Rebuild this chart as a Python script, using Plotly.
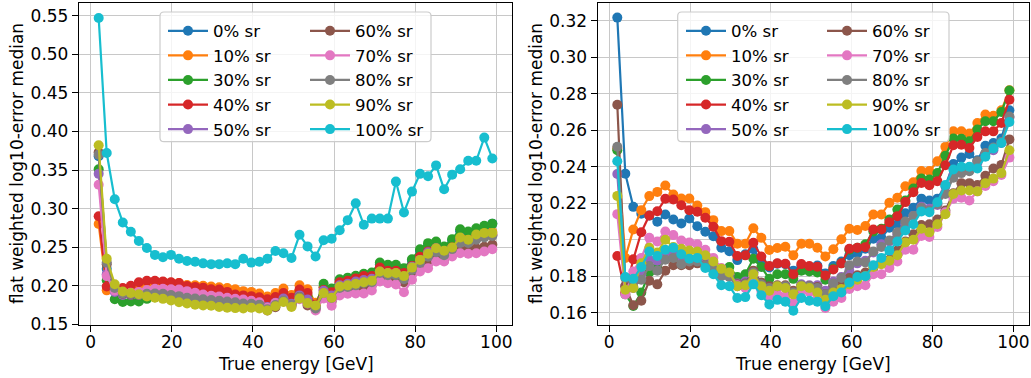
import plotly.graph_objects as go
from plotly.subplots import make_subplots

W, H = 1031, 378

# Bin centres of the true energy [GeV]
energy = [1.99, 3.97, 5.95, 7.93, 9.91, 11.89, 13.87, 15.85, 17.83, 19.81,
          21.79, 23.77, 25.75, 27.73, 29.71, 31.69, 33.67, 35.65, 37.63, 39.61,
          41.59, 43.57, 45.55, 47.53, 49.51, 51.49, 53.47, 55.45, 57.43, 59.41,
          61.39, 63.37, 65.35, 67.33, 69.31, 71.29, 73.27, 75.25, 77.23, 79.21,
          81.19, 83.17, 85.15, 87.13, 89.11, 91.09, 93.07, 95.05, 97.03, 99.01]

labels = ["0% sr", "10% sr", "30% sr", "40% sr", "50% sr",
          "60% sr", "70% sr", "80% sr", "90% sr", "100% sr"]
colors = ["#1f77b4", "#ff7f0e", "#2ca02c", "#d62728", "#9467bd",
          "#8c564b", "#e377c2", "#7f7f7f", "#bcbd22", "#17becf"]

# ---- left panel: flat weighted log10-error median ----
left_sr0 = [0.368, 0.222, 0.193, 0.189, 0.189, 0.189, 0.1915, 0.192, 0.1915, 0.1905,
            0.189, 0.1875, 0.1865, 0.1855, 0.1845, 0.1835, 0.1825, 0.181, 0.180, 0.1795,
            0.1785, 0.1745, 0.1795, 0.1845, 0.178, 0.189, 0.1835, 0.1735, 0.198, 0.1945,
            0.2065, 0.2085, 0.211, 0.2135, 0.215, 0.2275, 0.2245, 0.2245, 0.2205, 0.2325,
            0.245, 0.2525, 0.256, 0.249, 0.2585, 0.2705, 0.268, 0.2725, 0.2755, 0.2805]
left_sr10 = [0.280, 0.194, 0.197, 0.196, 0.197, 0.199, 0.203, 0.205, 0.205, 0.204,
             0.2035, 0.201, 0.2005, 0.200, 0.199, 0.198, 0.197, 0.1955, 0.193, 0.192,
             0.190, 0.186, 0.1905, 0.1965, 0.188, 0.2005, 0.1955, 0.178, 0.198, 0.195,
             0.2045, 0.206, 0.2085, 0.210, 0.2095, 0.2215, 0.2175, 0.2175, 0.2135, 0.2245,
             0.2355, 0.2455, 0.2505, 0.2435, 0.2525, 0.2625, 0.2605, 0.2665, 0.2675, 0.2695]
left_sr30 = [0.351, 0.207, 0.1825, 0.179, 0.1795, 0.1795, 0.183, 0.185, 0.1855, 0.185,
             0.184, 0.1825, 0.182, 0.1805, 0.1795, 0.1785, 0.1775, 0.177, 0.1765, 0.1765,
             0.176, 0.1715, 0.178, 0.1835, 0.1775, 0.1905, 0.1865, 0.1745, 0.2025, 0.1965,
             0.2085, 0.2105, 0.2128, 0.2154, 0.2172, 0.2301, 0.2271, 0.2271, 0.2228, 0.2344,
             0.2474, 0.2552, 0.2573, 0.2509, 0.2604, 0.2733, 0.2703, 0.2746, 0.2776, 0.2802]
left_sr40 = [0.290, 0.199, 0.195, 0.197, 0.200, 0.2045, 0.2065, 0.2065, 0.2055, 0.2045,
             0.2035, 0.1995, 0.1985, 0.1975, 0.1955, 0.195, 0.192, 0.1885, 0.1875, 0.1865,
             0.185, 0.1825, 0.1855, 0.1905, 0.1845, 0.195, 0.1905, 0.1755, 0.1945, 0.1915,
             0.2045, 0.2065, 0.2095, 0.2125, 0.2125, 0.2235, 0.2195, 0.2195, 0.2165, 0.2255,
             0.2375, 0.2445, 0.2485, 0.2435, 0.2495, 0.2605, 0.2585, 0.2635, 0.2655, 0.2665]
left_sr50 = [0.345, 0.215, 0.192, 0.188, 0.188, 0.1885, 0.191, 0.1915, 0.191, 0.190,
             0.1885, 0.1865, 0.186, 0.185, 0.1835, 0.1825, 0.181, 0.180, 0.179, 0.1785,
             0.1775, 0.1725, 0.178, 0.1835, 0.1765, 0.1875, 0.182, 0.1715, 0.1935, 0.1875,
             0.2005, 0.2025, 0.2055, 0.2075, 0.209, 0.2185, 0.2165, 0.2165, 0.2115, 0.2245,
             0.2335, 0.2435, 0.2485, 0.2425, 0.249, 0.2595, 0.2575, 0.262, 0.2645, 0.2655]
left_sr60 = [0.373, 0.228, 0.196, 0.1895, 0.1885, 0.188, 0.190, 0.1905, 0.190, 0.189,
             0.187, 0.1855, 0.1845, 0.1835, 0.1825, 0.181, 0.180, 0.179, 0.1775, 0.177,
             0.1755, 0.168, 0.172, 0.1795, 0.1745, 0.1855, 0.1745, 0.1695, 0.1875, 0.1795,
             0.1935, 0.1955, 0.1975, 0.199, 0.2005, 0.2135, 0.2105, 0.2095, 0.2045, 0.2155,
             0.2225, 0.2285, 0.2345, 0.2325, 0.2425, 0.2465, 0.2475, 0.2485, 0.2505, 0.2535]
left_sr70 = [0.331, 0.2125, 0.1935, 0.1915, 0.191, 0.192, 0.1945, 0.196, 0.196, 0.1955,
             0.195, 0.193, 0.191, 0.1885, 0.187, 0.186, 0.1845, 0.183, 0.182, 0.1805,
             0.1785, 0.1715, 0.1775, 0.1805, 0.1745, 0.1825, 0.177, 0.168, 0.1835, 0.174,
             0.1875, 0.1895, 0.190, 0.190, 0.1938, 0.2055, 0.2033, 0.2015, 0.1915, 0.2077,
             0.2185, 0.2228, 0.2314, 0.2314, 0.2379, 0.2422, 0.2415, 0.2422, 0.2444, 0.2474]
left_sr80 = [0.370, 0.230, 0.197, 0.190, 0.189, 0.188, 0.1895, 0.190, 0.1895, 0.188,
             0.1865, 0.1845, 0.1835, 0.1825, 0.1815, 0.1805, 0.1795, 0.1785, 0.177, 0.1765,
             0.1755, 0.1695, 0.175, 0.181, 0.175, 0.1855, 0.1775, 0.1705, 0.1905, 0.184,
             0.197, 0.1985, 0.2005, 0.2035, 0.2045, 0.2165, 0.2135, 0.2135, 0.2085, 0.2205,
             0.2295, 0.2375, 0.2435, 0.2395, 0.2475, 0.2555, 0.2555, 0.2595, 0.2625, 0.2645]
left_sr90 = [0.382, 0.235, 0.202, 0.1925, 0.1905, 0.189, 0.186, 0.1845, 0.183, 0.181,
             0.1785, 0.177, 0.1755, 0.1745, 0.174, 0.1725, 0.1715, 0.171, 0.1705, 0.1715,
             0.1705, 0.168, 0.1735, 0.179, 0.1725, 0.1835, 0.1775, 0.1745, 0.1905, 0.1845,
             0.199, 0.2005, 0.2025, 0.2045, 0.2065, 0.2185, 0.2165, 0.2165, 0.2125, 0.2235,
             0.2335, 0.2415, 0.2485, 0.2455, 0.2495, 0.2625, 0.2595, 0.2665, 0.2685, 0.2685]
left_sr100 = [0.547, 0.372, 0.312, 0.282, 0.270, 0.258, 0.249, 0.240, 0.237, 0.240,
              0.235, 0.232, 0.231, 0.229, 0.228, 0.228, 0.229, 0.228, 0.235, 0.230,
              0.231, 0.235, 0.245, 0.242, 0.236, 0.266, 0.251, 0.238, 0.259, 0.261,
              0.272, 0.285, 0.307, 0.279, 0.287, 0.287, 0.287, 0.335, 0.295, 0.322,
              0.345, 0.342, 0.356, 0.325, 0.344, 0.351, 0.362, 0.362, 0.392, 0.365]

# ---- right panel ----
right_sr0 = [0.3218, 0.2362, 0.218, 0.2142, 0.2132, 0.2098, 0.2138, 0.2111, 0.2089, 0.2116,
             0.2074, 0.2043, 0.2019, 0.1956, 0.1937, 0.1888, 0.1920, 0.1948, 0.1880, 0.1848,
             0.1868, 0.1865, 0.1830, 0.1855, 0.1845, 0.1858, 0.1815, 0.1855, 0.1880, 0.1915,
             0.1925, 0.1950, 0.2005, 0.2010, 0.2065, 0.2085, 0.2145, 0.2175, 0.2225, 0.2215,
             0.2225, 0.2295, 0.2415, 0.2450, 0.2470, 0.2435, 0.2515, 0.2530, 0.2555, 0.2710]
right_sr10 = [0.250, 0.190, 0.2056, 0.2162, 0.2239, 0.2262, 0.2297, 0.2248, 0.2226, 0.2226,
              0.2187, 0.2151, 0.2107, 0.2047, 0.2047, 0.1978, 0.1978, 0.2063, 0.2010, 0.1943,
              0.1954, 0.1961, 0.1914, 0.1978, 0.1978, 0.1956, 0.1908, 0.1947, 0.2002, 0.2060,
              0.2053, 0.2075, 0.2138, 0.2138, 0.2202, 0.2230, 0.2293, 0.2315, 0.2376, 0.2376,
              0.2430, 0.2509, 0.2595, 0.2595, 0.2582, 0.2640, 0.2686, 0.2680, 0.2710, 0.2819]
right_sr30 = [0.249, 0.170, 0.1636, 0.171, 0.182, 0.1845, 0.1905, 0.1920, 0.1905, 0.1895,
              0.1890, 0.1880, 0.1850, 0.1830, 0.1850, 0.1795, 0.1810, 0.1895, 0.1850, 0.1785,
              0.1810, 0.1810, 0.1785, 0.1830, 0.1825, 0.1820, 0.1780, 0.1840, 0.1870, 0.1945,
              0.1955, 0.1975, 0.2045, 0.2060, 0.2110, 0.2165, 0.2215, 0.2280, 0.2335, 0.2330,
              0.2365, 0.2460, 0.2555, 0.2553, 0.2540, 0.2604, 0.2649, 0.2649, 0.2700, 0.2818]
right_sr40 = [0.191, 0.171, 0.1892, 0.2041, 0.2133, 0.2156, 0.2224, 0.2220, 0.2189, 0.2162,
              0.2153, 0.2120, 0.2071, 0.1992, 0.1989, 0.1910, 0.1914, 0.1983, 0.1908, 0.1855,
              0.1870, 0.1868, 0.1810, 0.1866, 0.1855, 0.1852, 0.1804, 0.1837, 0.1870, 0.1950,
              0.1956, 0.1959, 0.2056, 0.2056, 0.2096, 0.2129, 0.2206, 0.2260, 0.2311, 0.2299,
              0.2321, 0.2408, 0.2518, 0.2521, 0.2503, 0.2563, 0.2594, 0.2594, 0.2640, 0.2768]
right_sr50 = [0.236, 0.1745, 0.1735, 0.1810, 0.1890, 0.1885, 0.1905, 0.1920, 0.1900, 0.1890,
              0.1885, 0.1870, 0.1845, 0.1815, 0.1810, 0.1760, 0.1770, 0.1820, 0.1760, 0.1735,
              0.1740, 0.1745, 0.1715, 0.1755, 0.1750, 0.1750, 0.1720, 0.1770, 0.1795, 0.1830,
              0.1870, 0.1885, 0.1930, 0.1975, 0.1990, 0.2030, 0.2085, 0.2130, 0.2180, 0.2170,
              0.2190, 0.2260, 0.2350, 0.2380, 0.2395, 0.2420, 0.2470, 0.2490, 0.2530, 0.2670]
right_sr60 = [0.274, 0.1745, 0.1640, 0.1665, 0.1775, 0.1755, 0.1830, 0.1860, 0.1860, 0.1860,
              0.1870, 0.1860, 0.1840, 0.1815, 0.1800, 0.1755, 0.1760, 0.1830, 0.1765, 0.1745,
              0.1750, 0.1750, 0.1720, 0.1745, 0.1745, 0.1740, 0.1700, 0.1750, 0.1765, 0.1790,
              0.1805, 0.1820, 0.1845, 0.1880, 0.1890, 0.1940, 0.1990, 0.2030, 0.2080, 0.2085,
              0.2110, 0.2160, 0.2255, 0.2310, 0.2310, 0.2300, 0.2350, 0.2390, 0.2410, 0.2550]
right_sr70 = [0.214, 0.1700, 0.1825, 0.1900, 0.2010, 0.1990, 0.2045, 0.2025, 0.1995, 0.1985,
              0.1975, 0.1945, 0.1900, 0.1845, 0.1810, 0.1750, 0.1735, 0.1800, 0.1720, 0.1690,
              0.1700, 0.1690, 0.1655, 0.1720, 0.1715, 0.1695, 0.1625, 0.1660, 0.1680, 0.1730,
              0.1745, 0.1750, 0.1810, 0.1810, 0.1845, 0.1880, 0.1945, 0.1945, 0.2020, 0.2015,
              0.2070, 0.2150, 0.2225, 0.2230, 0.2215, 0.2265, 0.2295, 0.2320, 0.2355, 0.2450]
right_sr80 = [0.251, 0.179, 0.174, 0.178, 0.1855, 0.1830, 0.1890, 0.1900, 0.1865, 0.1880,
              0.1880, 0.1860, 0.1840, 0.1800, 0.1795, 0.1745, 0.1755, 0.1820, 0.1755, 0.1735,
              0.1745, 0.1745, 0.1710, 0.1750, 0.1745, 0.1735, 0.1700, 0.1760, 0.1790, 0.1860,
              0.1880, 0.1875, 0.1935, 0.1960, 0.1995, 0.2040, 0.2100, 0.2130, 0.2175, 0.2160,
              0.2195, 0.2250, 0.2340, 0.2365, 0.2375, 0.2430, 0.2475, 0.2505, 0.2535, 0.2675]
right_sr90 = [0.224, 0.1725, 0.1735, 0.1870, 0.1955, 0.1930, 0.2000, 0.1960, 0.1950, 0.1940,
              0.1935, 0.1915, 0.1880, 0.1840, 0.1820, 0.1745, 0.1750, 0.1810, 0.1745, 0.1720,
              0.1745, 0.1735, 0.1700, 0.1745, 0.1735, 0.1710, 0.1670, 0.1710, 0.1730, 0.1755,
              0.1780, 0.1800, 0.1850, 0.1865, 0.1885, 0.1915, 0.1985, 0.2000, 0.2060, 0.2040,
              0.2085, 0.2140, 0.2250, 0.2270, 0.2270, 0.2265, 0.2310, 0.2335, 0.2365, 0.2490]
right_sr100 = [0.243, 0.1795, 0.1785, 0.1850, 0.1935, 0.1910, 0.1945, 0.1955, 0.1920, 0.1895,
               0.1900, 0.1845, 0.1810, 0.1750, 0.1745, 0.1680, 0.1685, 0.1755, 0.1695, 0.1645,
               0.1670, 0.1660, 0.1610, 0.1680, 0.1665, 0.1660, 0.1635, 0.1690, 0.1710, 0.1765,
               0.1795, 0.1800, 0.1860, 0.1900, 0.1940, 0.1990, 0.2050, 0.2085, 0.2155, 0.2150,
               0.2205, 0.2300, 0.2385, 0.2400, 0.2400, 0.2390, 0.2455, 0.2500, 0.2530, 0.2645]

left_series = [left_sr0, left_sr10, left_sr30, left_sr40, left_sr50,
               left_sr60, left_sr70, left_sr80, left_sr90, left_sr100]
right_series = [right_sr0, right_sr10, right_sr30, right_sr40, right_sr50,
                right_sr60, right_sr70, right_sr80, right_sr90, right_sr100]

FONT = "DejaVu Sans"
FS = 17


def px(x):
    return x / W


def py(y):
    return 1 - y / H


fig = make_subplots(rows=1, cols=2)

# Each panel gets a two-column legend built from two legend boxes
legend_names = [("legend", "legend2"), ("legend3", "legend4")]
for col, series in ((1, left_series), (2, right_series)):
    for k, (lab, c, vals) in enumerate(zip(labels, colors, series)):
        leg = legend_names[col - 1][0 if k < 5 else 1]
        fig.add_trace(
            go.Scatter(
                x=energy, y=vals, name=lab, mode="lines+markers",
                line=dict(color=c, width=2.2),
                marker=dict(color=c, size=10),
                legend=leg, legendgroup=f"{lab}-{col}",
                hoverinfo="skip",
            ),
            row=1, col=col,
        )

axis_common = dict(
    showline=True, linecolor="black", linewidth=1.3, mirror=True,
    ticks="outside", ticklen=6, tickwidth=1.3, tickcolor="black",
    showgrid=True, gridcolor="#c8c8c8", gridwidth=1.1, zeroline=False,
    tickfont=dict(family=FONT, size=FS, color="black"),
    automargin=False,
)

fig.update_xaxes(axis_common)
fig.update_yaxes(axis_common)

fig.update_xaxes(domain=[px(79), px(512)], range=[-2.861, 103.861],
                 tickvals=[0, 20, 40, 60, 80, 100], ticklabelstandoff=-5,
                 row=1, col=1)
fig.update_xaxes(domain=[px(597.7), px(1029)], range=[-2.861, 103.861],
                 tickvals=[0, 20, 40, 60, 80, 100], ticklabelstandoff=-5,
                 row=1, col=2)
fig.update_yaxes(domain=[py(325), py(3)], range=[0.1491, 0.5665],
                 tickvals=[0.15, 0.20, 0.25, 0.30, 0.35, 0.40, 0.45, 0.50, 0.55],
                 tickformat=".2f", row=1, col=1)
fig.update_yaxes(domain=[py(325), py(3)], range=[0.1532, 0.3298],
                 tickvals=[0.16, 0.18, 0.20, 0.22, 0.24, 0.26, 0.28, 0.30, 0.32],
                 tickformat=".2f", row=1, col=2)

legend_font = dict(family=FONT, size=16.6, color="black")


def legend_box(x0, y0, x1, y1, r=4):
    # rounded rectangle in pixel units, converted to paper coordinates
    pts = (f"M {px(x0 + r)},{py(y0)} L {px(x1 - r)},{py(y0)} "
           f"Q {px(x1)},{py(y0)} {px(x1)},{py(y0 + r)} "
           f"L {px(x1)},{py(y1 - r)} Q {px(x1)},{py(y1)} {px(x1 - r)},{py(y1)} "
           f"L {px(x0 + r)},{py(y1)} Q {px(x0)},{py(y1)} {px(x0)},{py(y1 - r)} "
           f"L {px(x0)},{py(y0 + r)} Q {px(x0)},{py(y0)} {px(x0 + r)},{py(y0)} Z")
    return dict(type="path", path=pts, xref="paper", yref="paper",
                fillcolor="rgba(255,255,255,0.8)",
                line=dict(color="#cccccc", width=1.2), layer="above")


shapes = [legend_box(160, 12, 431, 141.7), legend_box(677.7, 12, 949, 141.7)]

legend_common = dict(
    bgcolor="rgba(0,0,0,0)", borderwidth=0, font=legend_font,
    orientation="v", traceorder="grouped", tracegroupgap=0,
    itemwidth=40, xanchor="left", yanchor="top", y=py(13.5),
)
layout_legends = {
    "legend": dict(legend_common, x=px(163)),
    "legend2": dict(legend_common, x=px(305)),
    "legend3": dict(legend_common, x=px(681)),
    "legend4": dict(legend_common, x=px(822)),
}

annotations = []
for cx in ((79 + 512) / 2, (597.7 + 1029) / 2):
    annotations.append(dict(
        text="True energy [GeV]", x=px(cx), y=py(364), xref="paper", yref="paper",
        xanchor="center", yanchor="middle", showarrow=False,
        font=dict(family=FONT, size=FS, color="black")))
for cx in (17, 536):
    annotations.append(dict(
        text="flat weighted log10-error median", x=px(cx), y=py(164),
        xref="paper", yref="paper", xanchor="center", yanchor="middle",
        textangle=-90, showarrow=False,
        font=dict(family=FONT, size=FS, color="black")))

fig.update_layout(
    width=W, height=H,
    margin=dict(l=0, r=0, t=0, b=0),
    paper_bgcolor="white", plot_bgcolor="white",
    showlegend=True,
    shapes=shapes, annotations=annotations,
    font=dict(family=FONT, size=FS, color="black"),
    **layout_legends,
)

fig.write_html("out.html")
